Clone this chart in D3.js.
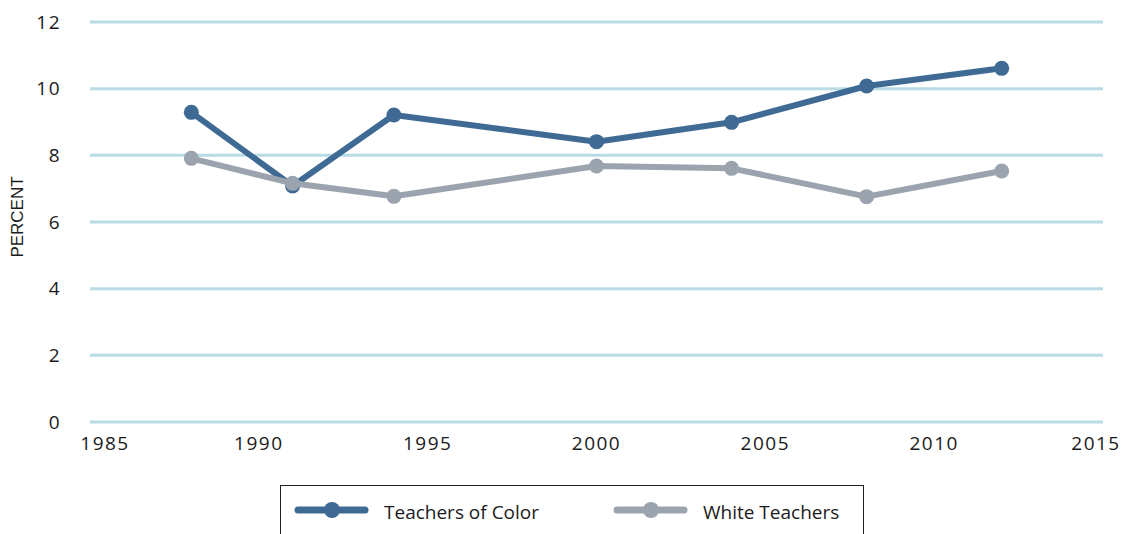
<!DOCTYPE html>
<html lang="en">
<head>
    <meta charset="UTF-8">
    <title>Teacher turnover</title>
    <script src="https://d3js.org/d3.v7.min.js"></script>
    <style>
        body { margin: 0; background: #fff; }
        svg { display: block; font-family: "Open Sans", "Liberation Sans", Arial, sans-serif; }
        .tick-label { font-size: 19px; fill: #1a1a1a; letter-spacing: 1.5px; }
        .legend-label { font-size: 19px; fill: #1a1a1a; }
        .axis-title { font-family: "Liberation Sans Narrow", "Liberation Sans", Arial, sans-serif; font-size: 17px; fill: #1a1a1a; }
    </style>
</head>
<body>
    <script>
        // data
        const years = [1988, 1991, 1994, 2000, 2004, 2008, 2012];
        const colorValues = [9.29, 7.08, 9.21, 8.41, 8.99, 10.08, 10.61];
        const whiteValues = [7.91, 7.16, 6.77, 7.68, 7.61, 6.76, 7.53];
        const seriesNames = ["Teachers of Color", "White Teachers"];
        const seriesColors = ["#3e6a94", "#9ba4ae"];
        const xTicks = [1985, 1990, 1995, 2000, 2005, 2010, 2015];
        const yTicks = [0, 2, 4, 6, 8, 10, 12];

        const width = 1131;
        const height = 534;

        const svg = d3.select("body").append("svg")
            .attr("width", width)
            .attr("height", height);

        const x = d3.scaleLinear().domain([1985, 2015]).range([90, 1103]);
        const y = d3.scaleLinear().domain([0, 12]).range([422, 22]);

        // horizontal grid lines
        svg.append("g")
            .selectAll("line")
            .data(yTicks)
            .join("line")
            .attr("x1", x(1985))
            .attr("x2", x(2015))
            .attr("y1", d => y(d))
            .attr("y2", d => y(d))
            .attr("stroke", "#b8dbe4")
            .attr("stroke-width", 3);

        // y axis labels
        svg.append("g")
            .selectAll("text")
            .data(yTicks)
            .join("text")
            .attr("class", "tick-label")
            .attr("x", 61)
            .attr("y", d => y(d))
            .attr("dy", "0.35em")
            .attr("text-anchor", "end")
            .text(d => d);

        // x axis labels (end labels pulled inward like the original)
        svg.append("g")
            .selectAll("text")
            .data(xTicks)
            .join("text")
            .attr("class", "tick-label")
            .attr("x", d => x(d) + (d === 1985 ? 15 : d === 2015 ? -7 : 0))
            .attr("y", 450)
            .attr("text-anchor", "middle")
            .text(d => d);

        svg.append("text")
            .attr("class", "axis-title")
            .attr("transform", "translate(23,217) rotate(-90)")
            .attr("text-anchor", "middle")
            .text("PERCENT");

        const line = d3.line()
            .x((d, i) => x(years[i]))
            .y(d => y(d));

        const series = [colorValues, whiteValues];
        series.forEach((vals, k) => {
            const g = svg.append("g");
            g.append("path")
                .datum(vals)
                .attr("d", line)
                .attr("fill", "none")
                .attr("stroke", seriesColors[k])
                .attr("stroke-width", 6)
                .attr("stroke-linejoin", "round");
            g.selectAll("circle")
                .data(vals)
                .join("circle")
                .attr("cx", (d, i) => x(years[i]))
                .attr("cy", d => y(d))
                .attr("r", 7.5)
                .attr("fill", seriesColors[k]);
        });

        // legend
        const legend = svg.append("g");
        legend.append("rect")
            .attr("x", 280.5)
            .attr("y", 485.5)
            .attr("width", 583)
            .attr("height", 60)
            .attr("fill", "#fff")
            .attr("stroke", "#222")
            .attr("stroke-width", 1);

        const legendX = [298, 617];
        seriesNames.forEach((name, k) => {
            const lx = legendX[k];
            legend.append("line")
                .attr("x1", lx).attr("x2", lx + 67)
                .attr("y1", 510).attr("y2", 510)
                .attr("stroke", seriesColors[k])
                .attr("stroke-width", 7)
                .attr("stroke-linecap", "round");
            legend.append("circle")
                .attr("cx", lx + 34)
                .attr("cy", 510)
                .attr("r", 8)
                .attr("fill", seriesColors[k]);
            legend.append("text")
                .attr("class", "legend-label")
                .attr("x", lx + 86)
                .attr("y", 519)
                .text(name);
        });
    </script>
</body>
</html>
